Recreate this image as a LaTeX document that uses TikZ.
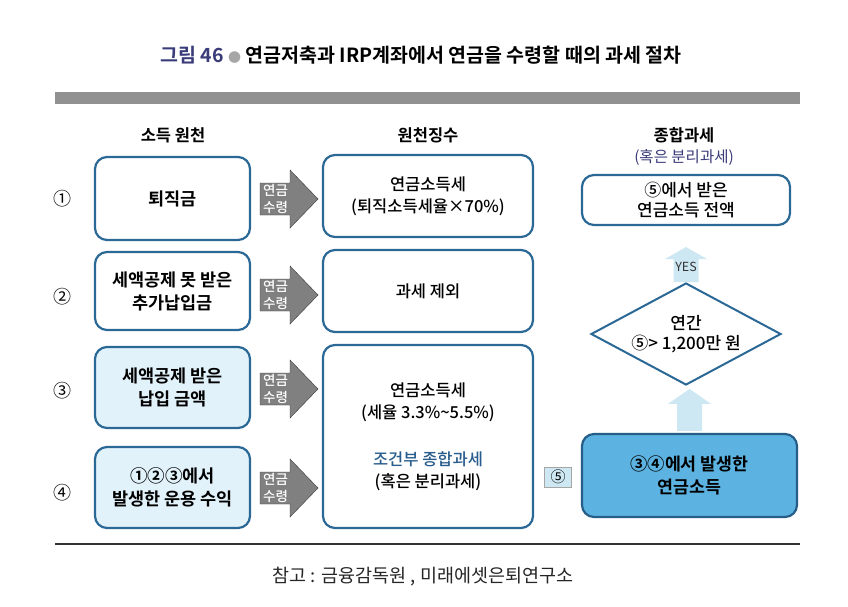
\documentclass[tikz,border=0pt]{standalone}
\usepackage{fontspec}
\setmainfont{Noto Sans CJK KR}[BoldFont={Noto Sans CJK KR Bold}]
\newfontfamily\medfont{Noto Sans CJK KR Medium}
\usetikzlibrary{shapes.geometric}

\definecolor{boxblue}{RGB}{42,104,150}
\definecolor{paleblue}{RGB}{226,242,250}
\definecolor{skyblue}{RGB}{92,178,224}
\definecolor{arrowblue}{RGB}{206,232,243}
\definecolor{navy}{RGB}{58,60,122}
\definecolor{condblue}{RGB}{40,92,140}
\definecolor{bandgray}{RGB}{145,145,145}
\definecolor{arrowgray}{RGB}{128,128,128}

\begin{document}
\begin{tikzpicture}[x=1pt,y=-1pt,
    box/.style={draw=boxblue, line width=2.2pt, rounded corners=12pt, fill=white, align=center, inner sep=0pt,
        font=\medfont\fontsize{16.5}{22}\selectfont},
    srcbox/.style={box, minimum width=155pt, font=\bfseries\fontsize{17.5}{23}\selectfont},
    paybox/.style={box, minimum width=210pt, minimum height=82pt},
    grayarrow/.style={fill=arrowgray, draw=gray!45!black, line width=0.4pt},
    arrowtext/.style={text=white, align=center, inner sep=0pt, font=\medfont\fontsize{13.5}{17}\selectfont},
    uparrow/.style={fill=arrowblue},
    rownum/.style={font=\fontsize{18}{20}\selectfont},
    head/.style={font=\bfseries\fontsize{16.5}{20}\selectfont}
]
\useasboundingbox (0,0) rectangle (848,606);
\fill[white] (0,0) rectangle (848,606);

% title and rules
\node[font=\bfseries\fontsize{19.5}{22}\selectfont] (title) at (421,55)
    {\textcolor{navy}{그림 46} {\fontsize{13}{14}\selectfont\textcolor{gray!70}{●}} 연금저축과 IRP계좌에서 연금을 수령할 때의 과세 절차};
\fill[bandgray] (55,92) rectangle (800,104);
\draw[line width=2.6pt, gray!40!black] (55,544) -- (800,544);
\node[font=\fontsize{18.5}{20}\selectfont, text=black!85] (note) at (423,577) {참고 : 금융감독원 , 미래에셋은퇴연구소};

% column heads
\node[head] (h1) at (173,135) {소득 원천};
\node[head] (h2) at (428,135) {원천징수};
\node[head] (h3) at (684,135) {종합과세};
\node[font=\fontsize{15.5}{18}\selectfont, text=navy] (h3b) at (684,158) {(혹은 분리과세)};

% row numbers
\node[rownum] (n1) at (62,199) {①};
\node[rownum] (n2) at (62,297) {②};
\node[rownum] (n3) at (62,391) {③};
\node[rownum] (n4) at (62,493) {④};

% income sources
\node[srcbox, minimum height=83pt] (src1) at (172.5,198.5) {퇴직금};
\node[srcbox, minimum height=78pt] (src2) at (172.5,291) {세액공제 못 받은\\추가납입금};
\node[srcbox, minimum height=81pt, fill=paleblue] (src3) at (172.5,387.5) {세액공제 받은\\납입 금액};
\node[srcbox, minimum height=81pt, fill=paleblue] (src4) at (172.5,487.5) {①②③에서\\발생한 운용 수익};

% withholding
\node[paybox] (pay1) at (428,196) {연금소득세\\(퇴직소득세율×70\%)};
\node[paybox] (pay2) at (428,291) {과세 제외};
\node[paybox, minimum height=183pt] (pay3) at (428,436.5)
    {연금소득세\\(세율 3.3\%\textasciitilde5.5\%)\\[25pt]\textcolor{condblue}{조건부 종합과세}\\(혹은 분리과세)};

% annuity arrows
\foreach \i/\y in {1/199, 2/295, 3/389, 4/488} {
    \draw[grayarrow] (260,\y-16) -- (290,\y-16) -- (290,\y-29) -- (318,\y) -- (290,\y+29)
        -- (290,\y+16) -- (260,\y+16) -- cycle;
    \node[arrowtext] (arr\i) at (275.5,\y) {연금\\수령};
}

% comprehensive taxation
\node[draw=gray!70, fill=arrowblue, line width=0.6pt, minimum width=27pt, minimum height=20pt, inner sep=0pt,
    font=\fontsize{15}{16}\selectfont] (five) at (558,477) {⑤};
\node[box, minimum width=215pt, minimum height=83pt, fill=skyblue, draw=boxblue!90!black,
    font=\bfseries\fontsize{17.3}{23}\selectfont] (pension) at (689.5,475.5) {③④에서 발생한\\연금소득};
\node[diamond, draw=boxblue, line width=2pt, fill=white, align=center, inner sep=0pt, aspect=1.86,
    minimum width=190pt, minimum height=102pt, font=\medfont\fontsize{17}{20}\selectfont] (limit) at (686,334)
    {연간\\⑤> 1,200만 원};
\node[box, minimum width=208pt, minimum height=50pt, inner sep=0pt, font=\medfont\fontsize{17}{20.5}\selectfont]
    (total) at (686,200) {⑤에서 받은\\연금소득 전액};

% up arrows
\fill[uparrow] (pension.north) ++(-12.5,-2) -- ++(0,-27) -- ++(-9,0) -- ++(21.5,-15) -- ++(21.5,15)
    -- ++(-9,0) -- ++(0,27) -- cycle;
\fill[uparrow] (limit.north) ++(-12.5,0) -- ++(0,-23) -- ++(-8.5,0) -- ++(21,-12) -- ++(21,12)
    -- ++(-8.5,0) -- ++(0,23) -- cycle;
\node[font=\fontsize{12.5}{14}\selectfont, text=black!80] (yes) at (686,267) {YES};
\end{tikzpicture}
\end{document}
